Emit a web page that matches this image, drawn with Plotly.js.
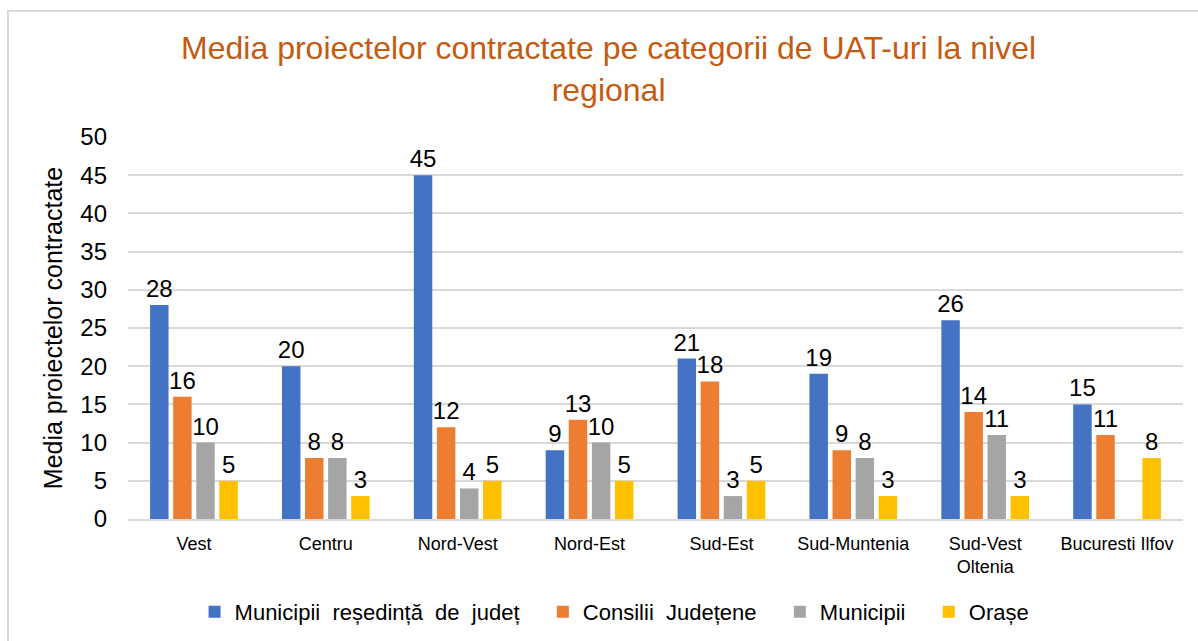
<!DOCTYPE html>
<html>
<head>
<meta charset="utf-8">
<script src="https://cdn.plot.ly/plotly-3.0.1.min.js"></script>
<style>
html,body{margin:0;padding:0;background:#fff;}
#chart{width:1198px;height:641px;position:absolute;left:0;top:0;}
#frame{position:absolute;left:7px;top:10px;width:1300px;height:700px;border-left:2px solid #D9D9D9;border-top:2px solid #D9D9D9;pointer-events:none;}
</style>
</head>
<body>
<div id="chart"></div>
<div id="frame"></div>
<script>
const categories = ["Vest", "Centru", "Nord-Vest", "Nord-Est", "Sud-Est", "Sud-Muntenia", "Sud-Vest<br>Oltenia", "Bucuresti Ilfov"];
const seriesNames = ["Municipii  reședință  de  județ\u00a0\u00a0\u00a0", "Consilii  Județene\u00a0\u00a0\u00a0", "Municipii\u00a0\u00a0\u00a0", "Orașe"];
const municipiiResedinta = [28, 20, 45, 9, 21, 19, 26, 15];
const consiliiJudetene = [16, 8, 12, 13, 18, 9, 14, 11];
const municipii = [10, 8, 4, 10, 3, 8, 11, null];
const orase = [5, 3, 5, 5, 5, 3, 3, 8];
const colors = ["#4472C4", "#ED7D31", "#A5A5A5", "#FFC000"];
const yTicks = [0, 5, 10, 15, 20, 25, 30, 35, 40, 45, 50];

const allSeries = [municipiiResedinta, consiliiJudetene, municipii, orase];
const traces = allSeries.map((vals, i) => ({
  type: 'bar',
  name: seriesNames[i],
  x: categories,
  y: vals,
  marker: {color: colors[i]},
  text: vals.map(v => v === null ? '' : String(v)),
  textposition: 'outside',
  constraintext: 'none',
  cliponaxis: false,
  textfont: {family: 'Liberation Sans, Arial, sans-serif', size: 24, color: '#000'},
  hoverinfo: 'x+y+name'
}));

const layout = {
  width: 1198, height: 641,
  paper_bgcolor: '#fff', plot_bgcolor: '#fff',
  font: {family: 'Liberation Sans, Arial, sans-serif', color: '#000'},
  margin: {l: 128, r: 15, t: 137, b: 122},
  barmode: 'group',
  bargap: 0.3,
  bargroupgap: 0.2,
  title: {
    text: 'Media proiectelor contractate pe categorii de UAT-uri la nivel<br>regional',
    font: {family: 'Liberation Sans, Arial, sans-serif', size: 32, color: '#C55A11'},
    x: 0.508, xref: 'container', xanchor: 'center',
    y: 1 - 59/641, yref: 'container', yanchor: 'top'
  },
  xaxis: {
    type: 'category',
    tickfont: {size: 18, color: '#000'},
    showline: true, linecolor: '#D9D9D9', linewidth: 2,
    ticks: '', showgrid: false,
    ticklabelstandoff: 7
  },
  yaxis: {
    range: [0, 50],
    tickvals: yTicks,
    ticktext: yTicks.map(String),
    tickfont: {size: 24, color: '#000'},
    showgrid: true, gridcolor: '#D9D9D9', gridwidth: 2,
    zeroline: false, showline: false, ticks: '',
    ticklabelstandoff: 20,
    title: {text: 'Media proiectelor contractate', font: {size: 25, color: '#000'}, standoff: 10}
  },
  showlegend: true,
  legend: {
    orientation: 'h',
    xref: 'container', yref: 'container',
    x: 0.513, xanchor: 'center',
    y: 1 - 612/641, yanchor: 'middle',
    font: {size: 22, color: '#000'},
    traceorder: 'normal',
    itemwidth: 30
  }
};

Plotly.newPlot('chart', traces, layout, {displayModeBar: false, responsive: false});
</script>
</body>
</html>
